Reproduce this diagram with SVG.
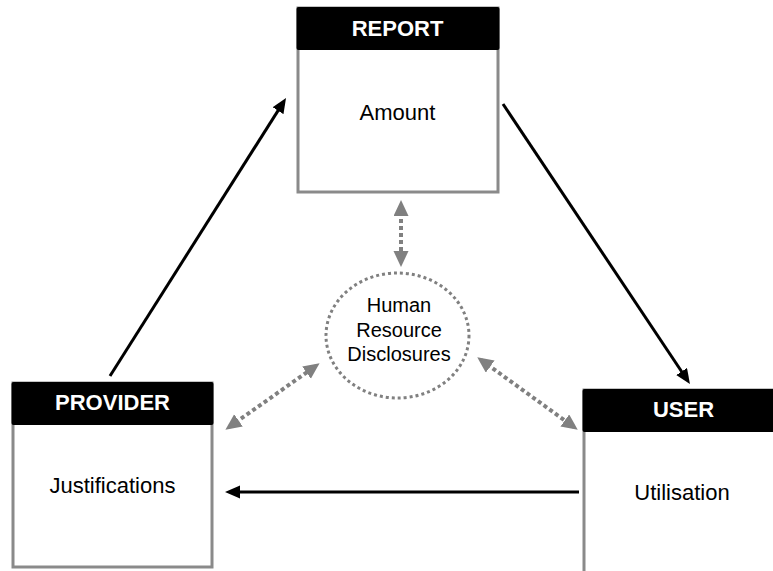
<svg xmlns="http://www.w3.org/2000/svg" width="773" height="571" viewBox="0 0 773 571">
<style>
.box{fill:#fff;stroke:#8a8a8a;stroke-width:3}
.hdr{fill:#000}
.ht{font-family:"Liberation Sans",Arial,sans-serif;font-weight:bold;font-size:22px;fill:#fff;text-anchor:middle}
.bt{font-family:"Liberation Sans",Arial,sans-serif;font-size:22px;fill:#000;text-anchor:middle}
.ct{font-family:"Liberation Sans",Arial,sans-serif;font-size:20px;fill:#000;text-anchor:middle}
.arr{stroke:#000;stroke-width:3;fill:none;marker-end:url(#ah)}
.dot{stroke:#808080;stroke-width:4;stroke-dasharray:4 3;fill:none;marker-start:url(#gh);marker-end:url(#gh)}
</style>
<defs>
<marker id="ah" markerUnits="userSpaceOnUse" markerWidth="16" markerHeight="14" refX="9" refY="6.5" orient="auto"><path d="M0,0 L15,6.5 L0,13 z" fill="#000"/></marker>
<marker id="gh" markerUnits="userSpaceOnUse" markerWidth="18" markerHeight="16" refX="11" refY="7.5" orient="auto-start-reverse"><path d="M0,0 L16,7.5 L0,15 z" fill="#808080"/></marker>
</defs>
<g id="connectors">
<line class="arr" x1="110" y1="376" x2="282.8" y2="103.1"/>
<line class="arr" x1="503" y1="104" x2="686.6" y2="379"/>
<line class="arr" x1="579" y1="492" x2="231" y2="492"/>
<line class="dot" x1="401" y1="205" x2="401" y2="262"/>
<line class="dot" x1="229.5" y1="426.8" x2="315.5" y2="366.2"/>
<line class="dot" x1="481.3" y1="360.1" x2="573.7" y2="426.9"/>
</g>
<g id="report">
<rect class="box" x="298" y="8" width="200" height="184"/>
<rect class="hdr" x="296.5" y="7" width="203" height="43" rx="2"/>
<text class="ht" x="397.5" y="36">REPORT</text>
<text class="bt" x="397.5" y="120">Amount</text>
</g>
<g id="provider">
<rect class="box" x="13" y="383" width="199" height="184"/>
<rect class="hdr" x="11.5" y="382" width="202" height="43" rx="2"/>
<text class="ht" x="112.5" y="410">PROVIDER</text>
<text class="bt" x="112.5" y="493">Justifications</text>
</g>
<g id="user">
<rect class="box" x="584" y="390" width="200" height="200"/>
<rect class="hdr" x="582.5" y="389" width="203" height="43" rx="2"/>
<text class="ht" x="683.5" y="417">USER</text>
<text class="bt" x="682" y="500">Utilisation</text>
</g>
<g id="hrd">
<ellipse cx="397.5" cy="335.5" rx="71.5" ry="62.5" fill="none" stroke="#808080" stroke-width="3" stroke-dasharray="3 3"/>
<text class="ct" x="399" y="312">Human</text>
<text class="ct" x="399" y="337">Resource</text>
<text class="ct" x="399" y="361">Disclosures</text>
</g>
</svg>
